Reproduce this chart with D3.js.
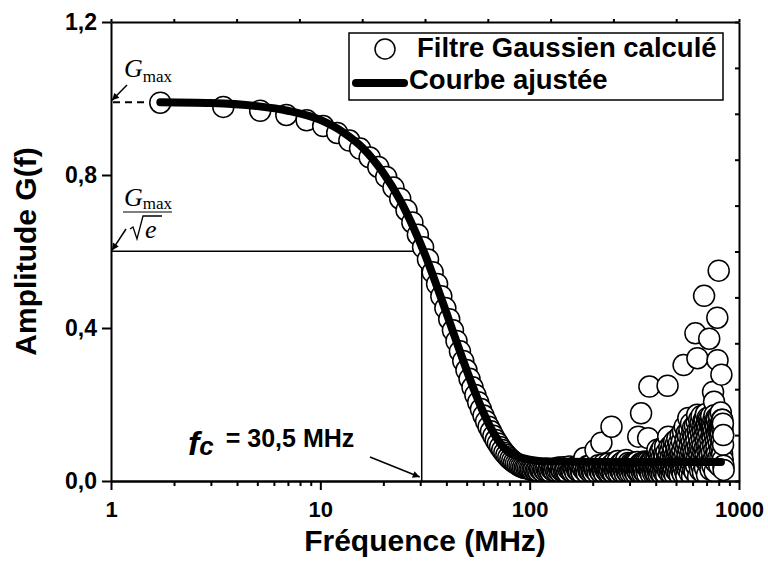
<!DOCTYPE html>
<html>
<head>
<meta charset="utf-8" />
<title>Filtre gaussien</title>
<script src="https://d3js.org/d3.v7.min.js"></script>
<style>
body { margin:0; background:white; }
text { font-family: "Liberation Sans", Arial, sans-serif; font-weight: bold; fill: black; }
.math { font-family: "Liberation Serif", "Times New Roman", serif; font-weight: normal; }
.axis path, .axis line { stroke: black; stroke-width: 2px; }
</style>
</head>
<body>
<div id="figure"></div>
<script>

// calculated filter, one sample every fStep MHz starting at fStep
var fStep = 1.72
var filterAmp = [
	0.989,0.978,0.968,0.957,0.943,0.928,0.910,0.890,0.869,0.846,0.821,0.795,0.767,0.738,
	0.708,0.676,0.644,0.611,0.579,0.546,0.515,0.483,0.452,0.423,0.394,0.366,0.339,0.314,0.290,0.267,
	0.245,0.225,0.206,0.188,0.171,0.156,0.142,0.130,0.118,0.107,0.098,0.089,0.081,0.074,0.068,0.062,
	0.057,0.053,0.049,0.046,0.043,0.040,0.038,0.036,0.034,
	0.034,0.033,0.031,0.030,0.028,0.030,0.027,0.029,0.026,0.031,0.028,0.025,0.030,0.027,0.032,0.026,0.029,0.024,0.031,0.028,
	0.026,0.033,0.025,0.029,0.035,0.024,0.030,0.027,0.036,0.025,0.028,0.033,0.022,0.031,0.038,0.026,0.029,0.024,0.034,0.030,
	0.023,0.037,0.028,0.031,0.025,0.040,0.027,0.022,0.035,0.030,0.060,0.026,0.033,0.021,0.039,0.028,0.031,0.024,0.042,0.027,
	0.030,0.022,0.036,0.029,0.081,0.025,0.034,0.020,0.041,0.028,0.032,0.023,0.100,0.030,0.026,0.044,0.021,0.035,0.029,0.038,
	0.024,0.031,0.046,0.022,0.033,0.027,0.040,0.142,0.025,0.036,0.021,0.048,0.030,0.026,0.039,0.023,0.034,0.052,0.028,0.020,
	0.037,0.029,0.045,0.024,0.033,0.021,0.050,0.031,0.027,0.042,0.019,0.036,0.055,0.025,0.032,0.022,0.047,0.030,0.026,0.040,
	0.021,0.045,0.033,0.027,0.044,0.020,0.036,0.048,0.025,0.031,0.048,0.019,0.038,0.029,0.050,0.024,0.116,0.033,0.041,0.022,
	0.035,0.046,0.177,0.027,0.046,0.019,0.039,0.047,0.024,0.032,0.051,0.020,0.043,0.050,0.028,0.036,0.018,0.050,0.112,0.031,
	0.045,0.247,0.024,0.048,0.038,0.017,0.052,0.050,0.029,0.041,0.020,0.046,0.034,0.052,0.023,0.047,0.030,0.050,0.019,0.054,
	0.039,0.082,0.026,0.049,0.017,0.068,0.035,0.057,0.022,0.078,0.044,0.030,0.061,0.018,0.086,0.037,0.052,0.025,0.070,0.041,
	0.020,0.064,0.090,0.033,0.048,0.016,0.075,0.042,0.058,0.249,0.027,0.116,0.066,0.036,0.088,0.021,0.054,0.079,0.031,0.062,
	0.045,0.018,0.094,0.039,0.071,0.025,0.057,0.085,0.033,0.103,0.048,0.016,0.068,0.041,0.096,0.027,0.060,0.082,0.036,0.110,
	0.052,0.022,0.076,0.044,0.098,0.030,0.065,0.015,0.088,0.056,0.120,0.038,0.072,0.026,0.104,0.048,0.080,0.019,0.130,0.061,
	0.303,0.034,0.092,0.050,0.142,0.074,0.023,0.108,0.045,0.086,0.014,0.125,0.058,0.098,0.032,0.070,0.118,0.165,0.040,0.082,
	0.055,0.135,0.020,0.094,0.068,0.112,0.036,0.150,0.078,0.046,0.102,0.013,0.128,0.060,0.088,0.140,0.030,0.072,0.115,0.050,
	0.096,0.024,0.145,0.066,0.386,0.084,0.122,0.040,0.105,0.155,0.058,0.173,0.321,0.090,0.132,0.012,0.076,0.118,0.045,0.160,
	0.068,0.100,0.135,0.028,0.088,0.152,0.056,0.125,0.080,0.170,0.038,0.110,0.062,0.145,0.092,0.022,0.130,0.074,0.158,0.048,
	0.484,0.118,0.085,0.162,0.034,0.138,0.070,0.105,0.175,0.052,0.128,0.090,0.150,0.016,0.115,0.078,0.165,0.060,0.140,0.098,
	0.160,0.044,0.125,0.372,0.082,0.155,0.066,0.150,0.108,0.030,0.142,0.088,0.170,0.055,0.120,0.135,0.075,0.148,0.040,0.112,
	0.140,0.233,0.095,0.160,0.058,0.130,0.207,0.082,0.172,0.025,0.118,0.150,0.068,0.150,0.104,0.140,0.048,0.165,0.090,0.125,
	0.160,0.072,0.427,0.316,0.135,0.110,0.145,0.060,0.150,0.550,0.098,0.170,0.040,0.128,0.140,0.084,0.145,0.115,0.062,0.150,
	0.179,0.125,0.090,0.278,0.150,0.105,0.160,0.070,0.160,0.135,0.055,0.150,0.095,0.120,0.040,0.029
]

// fitted curve
var fitFreq = [1.72, 3, 5, 7, 10, 13, 16, 20, 24, 28, 32, 36, 40, 45, 50, 55, 60, 65, 70, 75, 80, 90, 100, 120, 200, 400, 820]
var fitAmp  = [0.990, 0.988, 0.980, 0.968, 0.944, 0.910, 0.870, 0.805, 0.735, 0.660, 0.585, 0.510, 0.440, 0.360, 0.290, 0.230, 0.180, 0.140, 0.110, 0.088, 0.074, 0.062, 0.056, 0.051, 0.050, 0.050, 0.050]

var gMax = 0.99
var fc = 30.5

var xTicks = [1, 10, 100, 1000]
var xMinorTicks = [2,3,4,5,6,7,8,9, 20,30,40,50,60,70,80,90, 200,300,400,500,600,700,800,900]
var yTicks = [0, 0.4, 0.8, 1.2]
var yTickLabels = ["0,0", "0,4", "0,8", "1,2"]

var size = {width:768, height:563}
var frame = {left:111, right:739, top:22, bottom:481}

var svg = d3.select("#figure").append("svg")
	.attr("width", size.width)
	.attr("height", size.height)

svg.append("rect")
	.attr("width", size.width)
	.attr("height", size.height)
	.attr("fill", "white")

var xScale = d3.scaleLog()
	.domain([1, 1000])
	.range([frame.left, frame.right])

var yScale = d3.scaleLinear()
	.domain([0, 1.2])
	.range([frame.bottom, frame.top])

var defs = svg.append("defs")

defs.append("clipPath")
	.attr("id", "frame_clip")
	.append("rect")
	.attr("x", frame.left)
	.attr("y", frame.top)
	.attr("width", frame.right - frame.left)
	.attr("height", frame.bottom - frame.top)

defs.append("marker")
	.attr("id", "arrow")
	.attr("viewBox", "0 0 10 10")
	.attr("refX", 10)
	.attr("refY", 5)
	.attr("markerWidth", 9)
	.attr("markerHeight", 7)
	.attr("markerUnits", "userSpaceOnUse")
	.attr("orient", "auto")
	.append("path")
	.attr("d", "M0,0 L10,5 L0,10 z")
	.attr("fill", "black")

// cut-off guides
var yHalf = yScale(gMax / Math.sqrt(Math.E))

svg.append("line")
	.attr("x1", frame.left).attr("x2", xScale(fc))
	.attr("y1", yHalf).attr("y2", yHalf)
	.attr("stroke", "black").attr("stroke-width", 1.5)

svg.append("line")
	.attr("x1", xScale(fc)).attr("x2", xScale(fc))
	.attr("y1", yHalf).attr("y2", frame.bottom)
	.attr("stroke", "black").attr("stroke-width", 1.5)

svg.append("line")
	.attr("x1", frame.left + 2).attr("x2", xScale(fStep) - 11)
	.attr("y1", yScale(gMax)).attr("y2", yScale(gMax))
	.attr("stroke", "black").attr("stroke-width", 2)
	.attr("stroke-dasharray", "7,5")

// data points, then the fit on top
var plot = svg.append("g").attr("clip-path", "url(#frame_clip)")

plot.selectAll(".pt")
	.data(filterAmp)
	.enter().append("circle")
	.attr("class", "pt")
	.attr("cx", function(d, i) { return xScale((i + 1) * fStep) })
	.attr("cy", function(d) { return yScale(d) })
	.attr("r", 10.5)
	.attr("fill", "white")
	.attr("stroke", "black")
	.attr("stroke-width", 1.5)

var fitLine = d3.line()
	.x(function(d) { return xScale(d[0]) })
	.y(function(d) { return yScale(d[1]) })
	.curve(d3.curveMonotoneX)

plot.append("path")
	.datum(fitFreq.map(function(f, i) { return [f, fitAmp[i]] }))
	.attr("d", fitLine)
	.attr("fill", "none")
	.attr("stroke", "black")
	.attr("stroke-width", 8)
	.attr("stroke-linecap", "round")

// axes
var bottomAxis = svg.append("g")
	.attr("class", "axis")
	.attr("transform", "translate(0," + frame.bottom + ")")
	.call(d3.axisBottom(xScale).tickValues(xTicks).tickSize(9).tickSizeOuter(0).tickPadding(11).tickFormat(d3.format("d")))
bottomAxis.selectAll("text").attr("font-size", 22).attr("font-weight", 700)

svg.append("g")
	.attr("class", "axis")
	.attr("transform", "translate(0," + frame.bottom + ")")
	.call(d3.axisBottom(xScale).tickValues(xMinorTicks).tickSize(5).tickSizeOuter(0).tickFormat(""))

var leftAxis = svg.append("g")
	.attr("class", "axis")
	.attr("transform", "translate(" + frame.left + ",0)")
	.call(d3.axisLeft(yScale).tickValues(yTicks).tickSize(9).tickSizeOuter(0).tickPadding(5)
		.tickFormat(function(d, i) { return yTickLabels[i] }))
leftAxis.selectAll("text").attr("font-size", 23).attr("font-weight", 700)

// mirrored frame edges with plain evenly spaced ticks
var topScale = d3.scaleLinear().domain([0, 10]).range([frame.left, frame.right])
var rightScale = d3.scaleLinear().domain([0, 10]).range([frame.bottom, frame.top])

svg.append("g")
	.attr("class", "axis")
	.attr("transform", "translate(0," + frame.top + ")")
	.call(d3.axisTop(topScale).ticks(10).tickSize(3).tickSizeOuter(0).tickFormat(""))

svg.append("g")
	.attr("class", "axis")
	.attr("transform", "translate(" + frame.right + ",0)")
	.call(d3.axisRight(rightScale).ticks(10).tickSize(-4).tickSizeOuter(0).tickFormat(""))

// axis titles
svg.append("text")
	.text("Fréquence (MHz)")
	.attr("font-size", 30)
	.attr("text-anchor", "middle")
	.attr("x", (frame.left + frame.right) / 2)
	.attr("y", 551)

svg.append("text")
	.text("Amplitude G(f)")
	.attr("font-size", 30)
	.attr("text-anchor", "middle")
	.attr("transform", "translate(36," + (frame.top + frame.bottom) / 2 + ") rotate(-90)")

// legend
var legend = svg.append("g")

legend.append("rect")
	.attr("x", 349).attr("y", 33)
	.attr("width", 374).attr("height", 67)
	.attr("fill", "white")
	.attr("stroke", "black")
	.attr("stroke-width", 1.5)

legend.append("circle")
	.attr("cx", 385).attr("cy", 49).attr("r", 10)
	.attr("fill", "white").attr("stroke", "black").attr("stroke-width", 1.5)

legend.append("text")
	.text("Filtre Gaussien calculé")
	.attr("font-size", 27.5)
	.attr("x", 417).attr("y", 57)

legend.append("line")
	.attr("x1", 356).attr("x2", 404)
	.attr("y1", 83).attr("y2", 83)
	.attr("stroke", "black").attr("stroke-width", 8).attr("stroke-linecap", "round")

legend.append("text")
	.text("Courbe ajustée")
	.attr("font-size", 27.5)
	.attr("x", 409).attr("y", 89)

// G_max annotation
var gLabel = svg.append("text").attr("class", "math").attr("x", 124).attr("y", 77)
gLabel.append("tspan").text("G").attr("font-size", 26).attr("font-style", "italic")
gLabel.append("tspan").text("max").attr("font-size", 17).attr("dy", 5)

svg.append("line")
	.attr("x1", 127).attr("y1", 85)
	.attr("x2", 112).attr("y2", yScale(gMax) - 2)
	.attr("stroke", "black").attr("stroke-width", 1.5)
	.attr("marker-end", "url(#arrow)")

// G_max / sqrt(e) annotation
var fracLabel = svg.append("text").attr("class", "math").attr("x", 124).attr("y", 206)
fracLabel.append("tspan").text("G").attr("font-size", 26).attr("font-style", "italic")
fracLabel.append("tspan").text("max").attr("font-size", 17).attr("dy", 3)

svg.append("line")
	.attr("x1", 123).attr("x2", 172)
	.attr("y1", 212).attr("y2", 212)
	.attr("stroke", "black").attr("stroke-width", 1.2)

svg.append("path")
	.attr("d", "M130,229 L133,227 L137,239 L143,216 L162,216")
	.attr("fill", "none")
	.attr("stroke", "black")
	.attr("stroke-width", 1.3)

svg.append("text")
	.attr("class", "math")
	.text("e")
	.attr("font-size", 26)
	.attr("font-style", "italic")
	.attr("x", 145).attr("y", 238)

svg.append("line")
	.attr("x1", 126).attr("y1", 229)
	.attr("x2", 112).attr("y2", yHalf - 1)
	.attr("stroke", "black").attr("stroke-width", 1.5)
	.attr("marker-end", "url(#arrow)")

// cut-off frequency label
var fcLabel = svg.append("text").attr("x", 188).attr("y", 455)
fcLabel.append("tspan").text("f").attr("font-size", 34).attr("font-style", "italic")
fcLabel.append("tspan").text("c").attr("font-size", 26).attr("font-style", "italic")
fcLabel.append("tspan").text(" = " + d3.format(".1f")(fc).replace(".", ",") + " MHz").attr("font-size", 25).attr("dy", -8).attr("dx", 5)

svg.append("line")
	.attr("x1", 370).attr("y1", 457)
	.attr("x2", xScale(fc) - 2).attr("y2", 477)
	.attr("stroke", "black").attr("stroke-width", 1.5)
	.attr("marker-end", "url(#arrow)")

</script>
</body>
</html>
